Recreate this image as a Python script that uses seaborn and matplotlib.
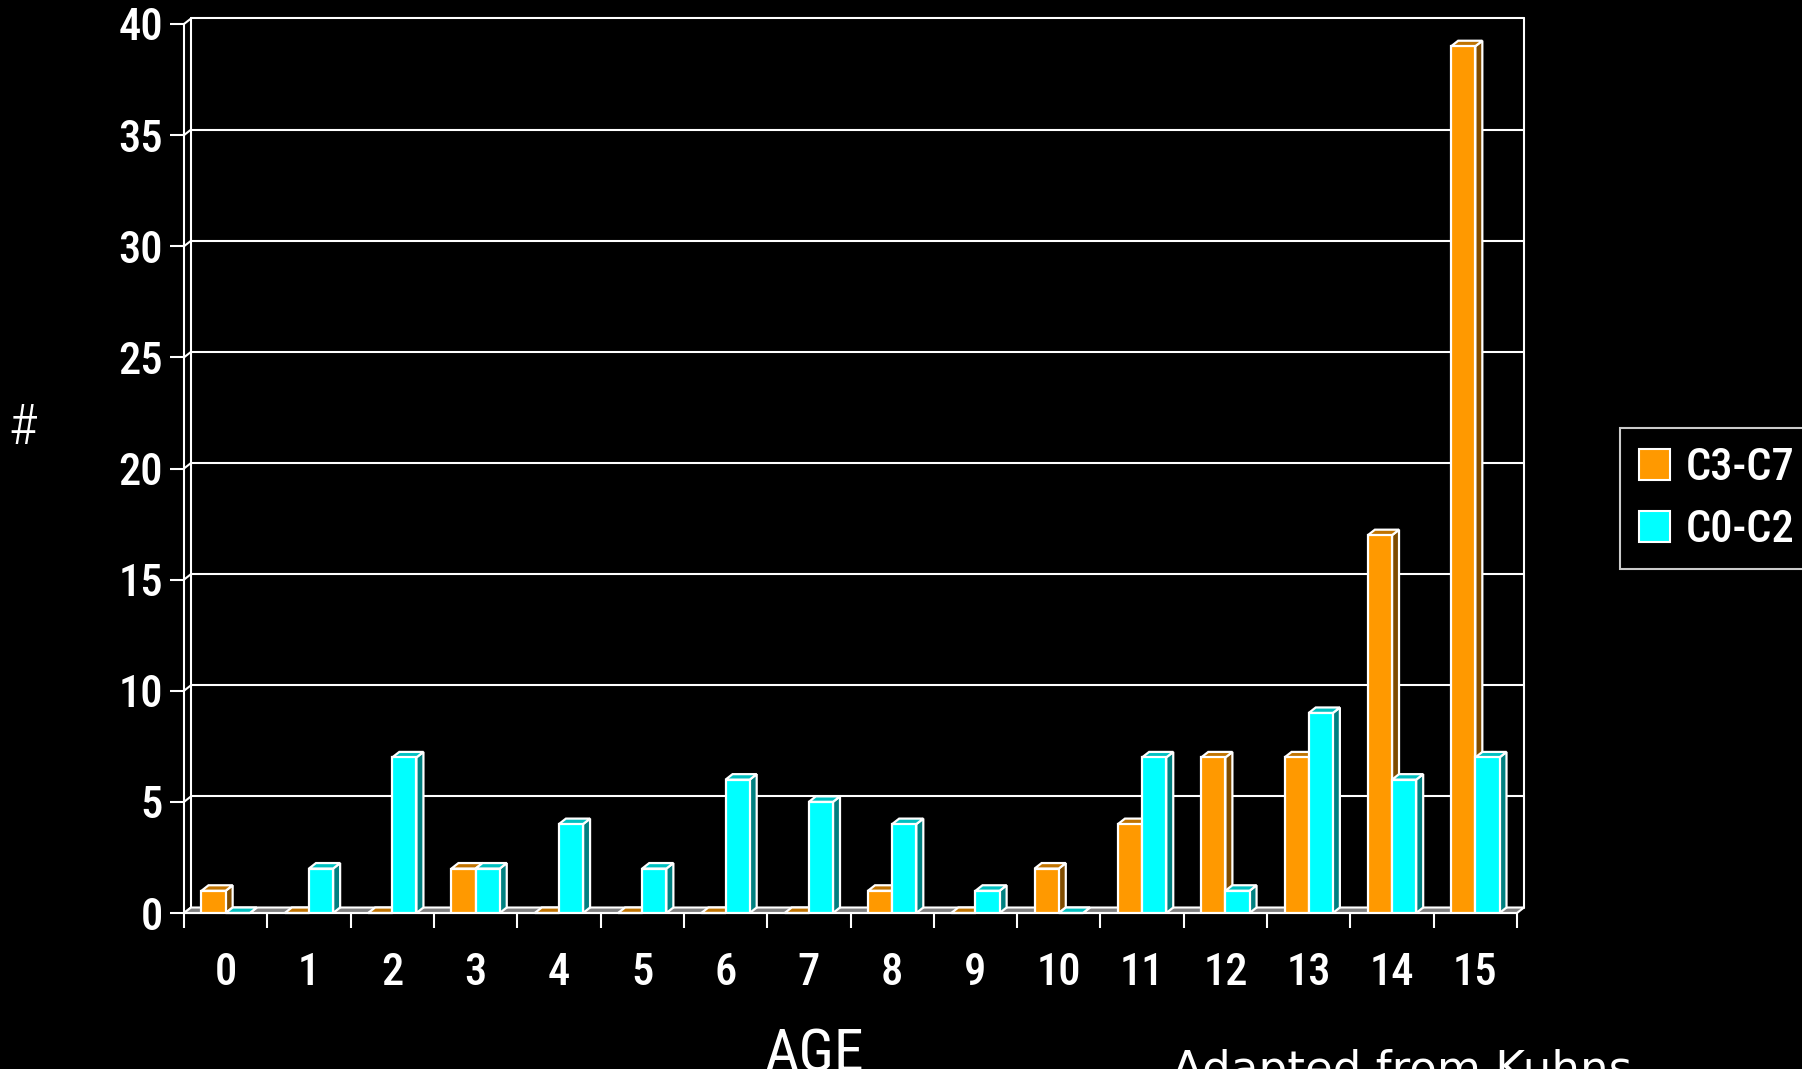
import matplotlib
matplotlib.use("Agg")
import matplotlib.pyplot as plt
from matplotlib import font_manager as fm
from matplotlib.patches import Polygon, Patch
import numpy as np
import pandas as pd
import seaborn as sns

# ---- data -------------------------------------------------------------
ages = list(range(16))
c3_c7 = [1, 0, 0, 2, 0, 0, 0, 0, 1, 0, 2, 4, 7, 7, 17, 39]
c0_c2 = [0, 2, 7, 2, 4, 2, 6, 5, 4, 1, 0, 7, 1, 9, 6, 7]
series_names = ["C3-C7", "C0-C2"]
y_ticks = [0, 5, 10, 15, 20, 25, 30, 35, 40]

# front / side / top shades for each series
front_colors = ["#FF9900", "#00FFFF"]
side_colors = ["#7F4C00", "#008080"]
top_colors = ["#C07300", "#00C0C0"]

df = pd.DataFrame({
    "AGE": ages + ages,
    "count": c3_c7 + c0_c2,
    "series": [series_names[0]] * len(ages) + [series_names[1]] * len(ages),
})

# ---- fonts ------------------------------------------------------------
sns.set_style("dark")
available = {f.name for f in fm.fontManager.ttflist}


def pick(*names):
    for n in names:
        if n in available:
            return n
    return "DejaVu Sans"


narrow = pick("Liberation Sans Narrow", "Roboto Condensed", "Open Sans Condensed", "DejaVu Sans")
plain = pick("DejaVu Sans")
plt.rcParams["font.family"] = [narrow, "DejaVu Sans"]

# ---- figure -----------------------------------------------------------
W, H = 1802, 1069
fig = plt.figure(figsize=(W / 100, H / 100), dpi=100)
fig.patch.set_facecolor("black")
ax = fig.add_axes([184 / W, (H - 913) / H, (1517 - 184) / W, (913 - 24) / H])
ax.set_facecolor("black")

sns.barplot(
    data=df, x="AGE", y="count", hue="series", hue_order=series_names,
    palette=front_colors, saturation=1, width=0.58, errorbar=None,
    edgecolor="white", linewidth=1.6, legend=False, ax=ax,
)

n = len(ages)
ax.set_xlim(-0.5, n - 0.5)
ax.set_ylim(0, 40)

# depth offset for the pseudo-3D look, in data units
dx = 7.0 * n / ax.bbox.width
dy = 5.5 * 40 / ax.bbox.height

# back wall with grid lines
x_left, x_right = -0.5, n - 0.5
for yv in y_ticks:
    if yv > 0:
        ax.plot([x_left + dx, x_right + dx], [yv + dy, yv + dy], color="white",
                lw=1.5, zorder=1, clip_on=False)
    ax.plot([x_left, x_left + dx], [yv, yv + dy], color="white", lw=1.5,
            zorder=1, clip_on=False)
for xv in (x_left + dx, x_right + dx):
    ax.plot([xv, xv], [dy, 40 + dy], color="white", lw=1.5, zorder=1, clip_on=False)

# floor strip
ax.add_patch(Polygon(
    [(x_left, 0), (x_right, 0), (x_right + dx, dy), (x_left + dx, dy)],
    closed=True, facecolor="#808080", edgecolor="white", lw=1.5, zorder=2,
    clip_on=False,
))

# bars: side and top faces built from each drawn bar
for k, cont in enumerate(ax.containers):
    z = 3 + k
    for bar in cont:
        bar.set_zorder(z + 0.5)
        x0 = bar.get_x()
        x1 = x0 + bar.get_width()
        h = bar.get_height()
        side = Polygon([(x1, 0), (x1 + dx, dy), (x1 + dx, h + dy), (x1, h)],
                       closed=True, facecolor=side_colors[k], edgecolor="white",
                       lw=1.6, zorder=z, clip_on=False)
        top = Polygon([(x0, h), (x0 + dx, h + dy), (x1 + dx, h + dy), (x1, h)],
                      closed=True, facecolor=top_colors[k], edgecolor="white",
                      lw=1.6, zorder=z, clip_on=False)
        ax.add_patch(side)
        ax.add_patch(top)

# ---- axes styling -----------------------------------------------------
for s in ("top", "right"):
    ax.spines[s].set_visible(False)
for s in ("left", "bottom"):
    ax.spines[s].set_color("white")
    ax.spines[s].set_linewidth(1.5)
    ax.spines[s].set_zorder(2.5)
ax.grid(False)

ax.set_yticks(y_ticks)
ax.set_yticklabels([str(v) for v in y_ticks])
ax.set_xticks(ages)
ax.set_xticklabels([str(a) for a in ages])
ax.set_xticks(np.arange(-0.5, n, 1.0), minor=True)

ax.tick_params(axis="y", which="major", colors="white", length=10, width=1.5,
               direction="out", pad=5, labelsize=32, left=True)
ax.tick_params(axis="x", which="major", colors="white", length=0, pad=28,
               labelsize=32, bottom=True)
ax.tick_params(axis="x", which="minor", colors="white", length=11, width=1.5,
               direction="out", bottom=True)
for lab in ax.get_xticklabels() + ax.get_yticklabels():
    lab.set_fontweight("medium")
ax.set_xlabel("")
ax.set_ylabel("")

# axis titles and source note
fig.text(23 / W, (H - 429) / H, "#", color="white", fontsize=40,
         ha="center", va="center", family=[narrow, "DejaVu Sans"],
         fontweight="light")
fig.text(815 / W, (H - 1071) / H, "AGE", color="white", fontsize=43,
         ha="center", va="baseline", family=[narrow, "DejaVu Sans"])
fig.text(1172 / W, (H - 1083) / H, "Adapted from Kuhns", color="white",
         fontsize=32.5, ha="left", va="baseline", family=[plain])

# legend
handles = [Patch(facecolor=c, edgecolor="white", linewidth=1.5) for c in front_colors]
leg = fig.legend(
    handles, series_names, loc="upper left",
    bbox_to_anchor=(1620 / W, (H - 428) / H), bbox_transform=fig.transFigure,
    frameon=True, fancybox=False, facecolor="black", edgecolor="white",
    prop={"family": [narrow, "DejaVu Sans"], "weight": "medium", "size": 32},
    handlelength=0.7, handleheight=0.7, handletextpad=0.35,
    borderpad=0.42, labelspacing=0.45, borderaxespad=0,
)
leg.get_frame().set_linewidth(1.5)
for t in leg.get_texts():
    t.set_color("white")

fig.savefig("out.png", dpi=100, facecolor="black")
